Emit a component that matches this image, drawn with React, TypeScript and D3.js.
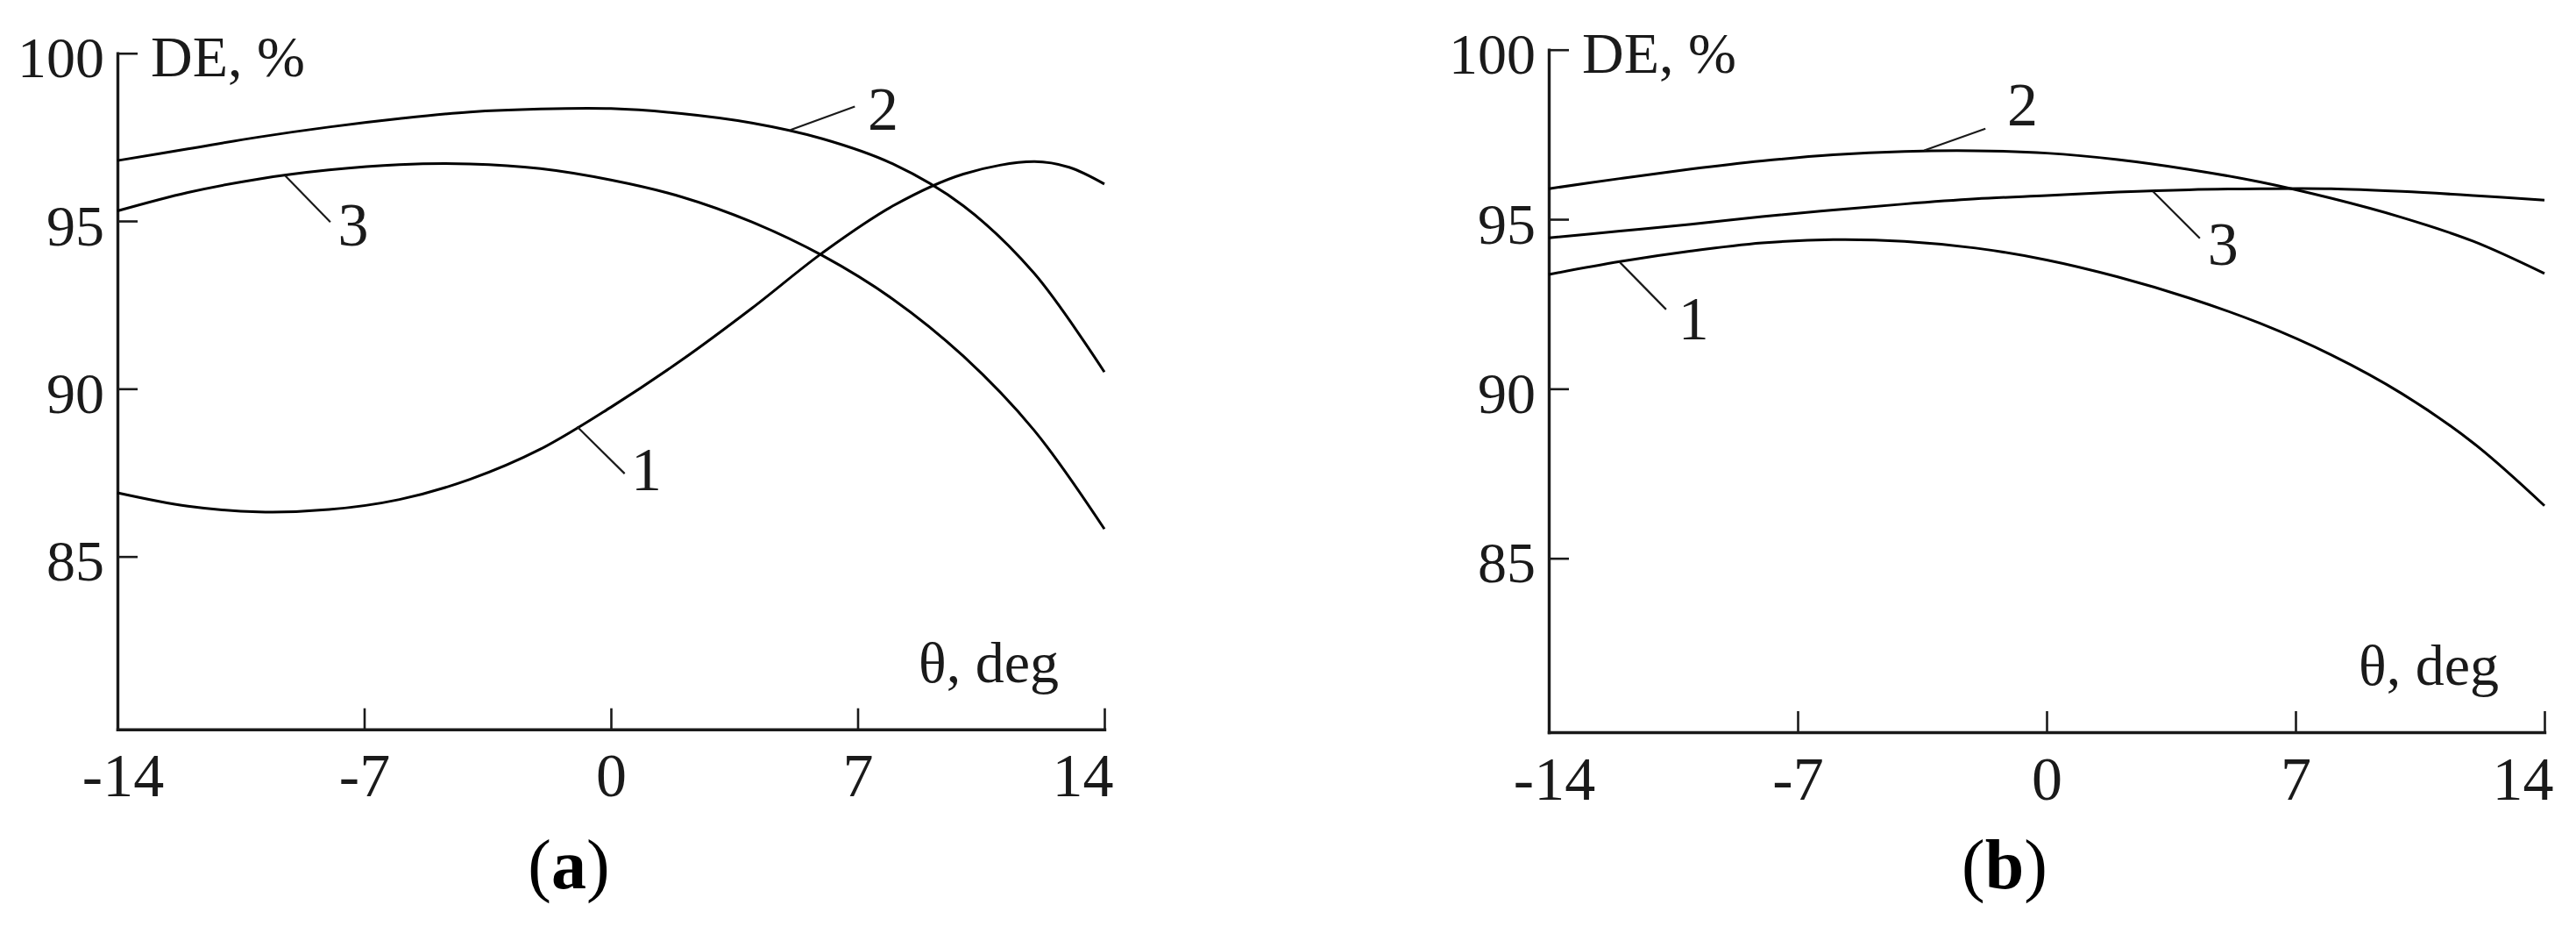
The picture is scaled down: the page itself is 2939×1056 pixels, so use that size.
import * as d3 from "d3";
import { useEffect, useRef } from "react";

const thetaTicks = [-14, -7, 0, 7, 14];
const deTicks = [85, 90, 95, 100];

// θ samples used for the curves
const theta = [-14, -12, -10, -8, -6, -4, -2, 0, 2, 4, 6, 8, 10, 12, 14];
const thetaA1 = [-14, -12, -10, -8, -6, -4, -2, 0, 2, 4, 6, 8, 10, 12, 13, 14];

// panel (a)
const deA1 = [86.9, 86.5, 86.33, 86.4, 86.7, 87.3, 88.2, 89.45, 90.85, 92.4, 94.05, 95.45, 96.4, 96.77, 96.6, 96.1];
const deA2 = [96.8, 97.15, 97.5, 97.8, 98.05, 98.25, 98.34, 98.35, 98.2, 97.92, 97.45, 96.7, 95.45, 93.45, 90.5];
const deA3 = [95.3, 95.85, 96.25, 96.52, 96.68, 96.7, 96.56, 96.22, 95.72, 94.97, 93.97, 92.67, 90.97, 88.77, 85.82];

// panel (b)
const deB1 = [93.37, 93.75, 94.06, 94.3, 94.4, 94.35, 94.15, 93.8, 93.3, 92.68, 91.93, 91.0, 89.85, 88.4, 86.55];
const deB2 = [95.9, 96.2, 96.48, 96.72, 96.9, 97.0, 97.02, 96.95, 96.76, 96.47, 96.1, 95.62, 95.05, 94.35, 93.4];
const deB3 = [94.45, 94.65, 94.85, 95.08, 95.27, 95.45, 95.6, 95.7, 95.8, 95.87, 95.9, 95.9, 95.82, 95.7, 95.56];

// curve labels: leader line from the curve, then the number
const labelsA = [
  { name: "1", from: [-0.96, 88.87], to: [0.39, 87.47], at: [1.01, 86.98] },
  { name: "2", from: [5.09, 97.71], to: [6.92, 98.41], at: [7.72, 97.71] },
  { name: "3", from: [-9.25, 96.36], to: [-7.96, 94.97], at: [-7.31, 94.27] },
];
const labelsB = [
  { name: "1", from: [-12.0, 93.73], to: [-10.7, 92.34], at: [-9.93, 91.47] },
  { name: "2", from: [-3.44, 97.03], to: [-1.72, 97.67], at: [-0.68, 97.77] },
  { name: "3", from: [2.99, 95.82], to: [4.31, 94.44], at: [4.96, 93.66] },
];

const panels = [
  {
    tag: "a",
    series: [[thetaA1, deA1], [theta, deA2], [theta, deA3]],
    labels: labelsA,
    xr: [134, 1260],
    yr: [831.7, 60.7],
    yMin: 79.85,
  },
  {
    tag: "b",
    series: [[theta, deB1], [theta, deB2], [theta, deB3]],
    labels: labelsB,
    xr: [1767, 2903],
    yr: [835, 56.7],
    yMin: 79.87,
  },
];

const FONT = "'Liberation Serif', 'DejaVu Serif', serif";
const INK = "#1a1a1a";

export default function App() {
  const svgRef = useRef<SVGSVGElement | null>(null);
  const width = 2939;
  const height = 1056;

  useEffect(() => {
    const svg = d3.select(svgRef.current);
    svg.selectAll("*").remove();

    panels.forEach((p) => {
      const x = d3.scaleLinear().domain([-14, 14]).range(p.xr);
      const y = d3.scaleLinear().domain([p.yMin, 100]).range(p.yr);
      const g = svg.append("g");

      const gx = g
        .append("g")
        .attr("transform", `translate(0,${p.yr[0]})`)
        .call(
          d3
            .axisBottom(x)
            .tickValues(thetaTicks)
            .tickSizeInner(-24)
            .tickSizeOuter(0)
            .tickPadding(27)
            .tickFormat((d: any) => String(d))
        );
      gx.attr("font-family", FONT).attr("font-size", 70);
      gx.select(".domain").attr("stroke", INK).attr("stroke-width", 3.4).attr("stroke-linecap", "square");
      gx.selectAll(".tick line").attr("stroke", INK).attr("stroke-width", 2.6);
      gx.selectAll(".tick text")
        .attr("fill", INK)
        .attr("text-anchor", (_: any, i: number) => (i === thetaTicks.length - 1 ? "end" : "middle"))
        .attr("dx", (_: any, i: number) => (i === 0 ? 6 : i === thetaTicks.length - 1 ? 10 : 0));

      const gy = g
        .append("g")
        .attr("transform", `translate(${p.xr[0]},0)`)
        .call(
          d3
            .axisLeft(y)
            .tickValues(deTicks)
            .tickSizeInner(-23)
            .tickSizeOuter(0)
            .tickPadding(15)
            .tickFormat((d: any) => String(d))
        );
      gy.attr("font-family", FONT).attr("font-size", 66);
      gy.select(".domain").attr("stroke", INK).attr("stroke-width", 3.4).attr("stroke-linecap", "square");
      gy.selectAll(".tick line").attr("stroke", INK).attr("stroke-width", 2.6);
      gy.selectAll(".tick text").attr("fill", INK).attr("dy", 27);

      // axis titles
      g.append("text")
        .attr("x", p.xr[0] + 38)
        .attr("y", y(100) + 26)
        .attr("font-family", FONT)
        .attr("font-size", 66)
        .attr("fill", INK)
        .text("DE, %");
      g.append("text")
        .attr("x", x(14) - 52)
        .attr("y", p.yr[0] - 54)
        .attr("text-anchor", "end")
        .attr("font-family", FONT)
        .attr("font-size", 66)
        .attr("fill", INK)
        .text("θ, deg");

      const line = d3.line().curve(d3.curveCatmullRom.alpha(0.5));

      p.series.forEach(([ts, vs]) => {
        const pts: [number, number][] = ts.map((t, i) => [x(t), y(vs[i])]);
        g.append("path")
          .attr("d", line(pts))
          .attr("fill", "none")
          .attr("stroke", "#000")
          .attr("stroke-width", 3);
      });

      p.labels.forEach((l) => {
        g.append("line")
          .attr("x1", x(l.from[0]))
          .attr("y1", y(l.from[1]))
          .attr("x2", x(l.to[0]))
          .attr("y2", y(l.to[1]))
          .attr("stroke", INK)
          .attr("stroke-width", 2.2);
        g.append("text")
          .attr("x", x(l.at[0]))
          .attr("y", y(l.at[1]))
          .attr("text-anchor", "middle")
          .attr("font-family", FONT)
          .attr("font-size", 70)
          .attr("fill", INK)
          .text(l.name);
      });

      // panel tag: (a) / (b) with bold letter
      const tag = g
        .append("text")
        .attr("x", (p.xr[0] + p.xr[1]) / 2 - 48)
        .attr("y", 1013)
        .attr("text-anchor", "middle")
        .attr("font-family", FONT)
        .attr("font-size", 80)
        .attr("fill", "#000");
      tag.append("tspan").text("(");
      tag.append("tspan").attr("font-weight", "bold").text(p.tag);
      tag.append("tspan").text(")");
    });
  }, []);

  return (
    <div style={{ position: "absolute", left: 0, top: 0, background: "#fff" }}>
      <svg ref={svgRef} width={width} height={height} style={{ display: "block" }}></svg>
    </div>
  );
}
